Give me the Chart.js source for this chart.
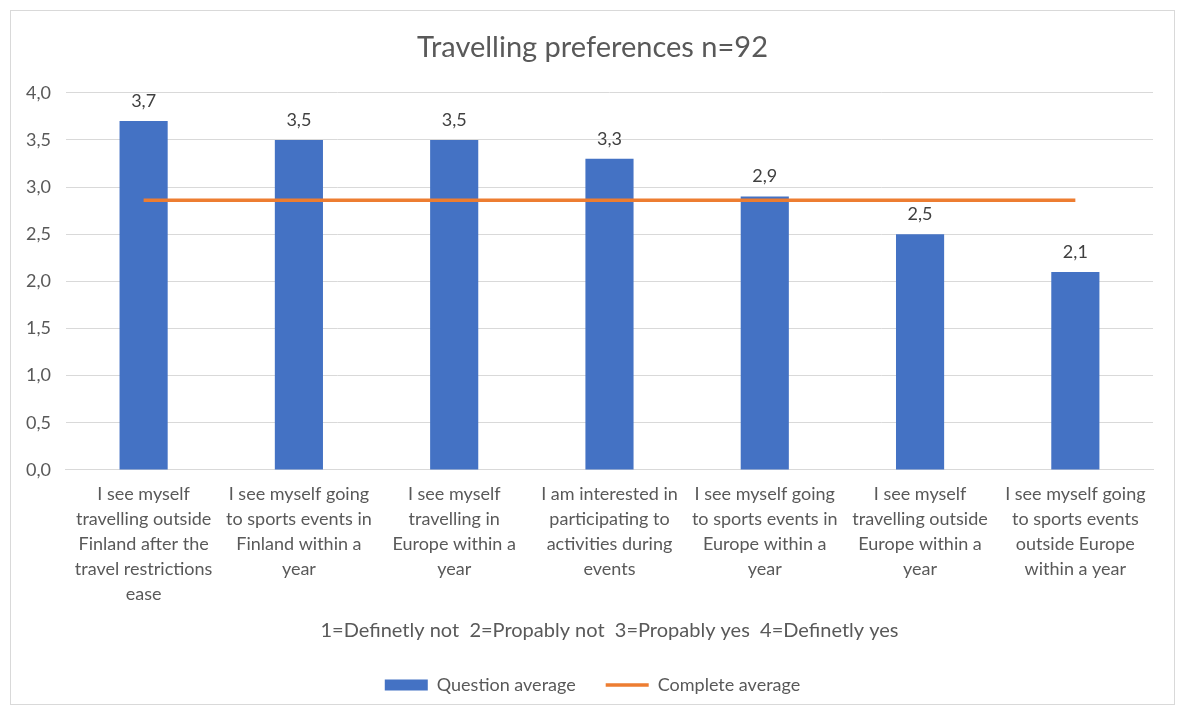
<!DOCTYPE html>
<html>
<head>
<meta charset="utf-8">
<script src="https://cdn.jsdelivr.net/npm/chart.js@4"></script>
<style>
  body { margin: 0; background: #fff; }
  #frame { position: absolute; left: 10px; top: 10px; width: 1163px; height: 693px; border: 1px solid #d9d9d9; }
</style>
</head>
<body>
<div id="frame"><canvas id="travelChart" width="1163" height="693"></canvas></div>
<script>
const categories = [
    ['I see myself', 'travelling outside', 'Finland after the', 'travel restrictions', 'ease'],
    ['I see myself going', 'to sports events in', 'Finland within a', 'year'],
    ['I see myself', 'travelling in', 'Europe within a', 'year'],
    ['I am interested in', 'participating to', 'activities during', 'events'],
    ['I see myself going', 'to sports events in', 'Europe within a', 'year'],
    ['I see myself', 'travelling outside', 'Europe within a', 'year'],
    ['I see myself going', 'to sports events', 'outside Europe', 'within a year']
];
const questionAverage = [3.7, 3.5, 3.5, 3.3, 2.9, 2.5, 2.1];
const completeAverage = [2.86, 2.86, 2.86, 2.86, 2.86, 2.86, 2.86];
const yTicks = [0, 0.5, 1, 1.5, 2, 2.5, 3, 3.5, 4];

const textColor = '#595959';
const fontFamily = 'Lato, "Open Sans", sans-serif';
const fmt = v => v.toFixed(1).replace('.', ',');

// value labels above the bars
const barLabels = {
    id: 'barLabels',
    afterDatasetsDraw(chart) {
        const meta = chart.getDatasetMeta(0);
        const ctx = chart.ctx;
        ctx.save();
        ctx.font = '18px ' + fontFamily;
        ctx.fillStyle = '#404040';
        ctx.textAlign = 'center';
        ctx.textBaseline = 'bottom';
        meta.data.forEach((bar, i) => {
            ctx.fillText(fmt(questionAverage[i]), bar.x, bar.y - 11);
        });
        ctx.restore();
    }
};

const ctx = document.getElementById('travelChart').getContext('2d');
new Chart(ctx, {
    type: 'bar',
    data: {
        labels: categories,
        datasets: [{
            label: 'Question average',
            data: questionAverage,
            backgroundColor: '#4472C4',
            categoryPercentage: 1,
            barPercentage: 0.31,
            pointStyle: 'rect',
            order: 1
        }, {
            type: 'line',
            label: 'Complete average',
            data: completeAverage,
            borderColor: '#ED7D31',
            backgroundColor: '#ED7D31',
            borderWidth: 3.5,
            pointRadius: 0,
            pointStyle: 'line',
            order: 0
        }]
    },
    options: {
        responsive: false,
        animation: false,
        layout: { padding: { left: 0, right: 0, bottom: 0 } },
        plugins: {
            title: {
                display: true,
                text: 'Travelling preferences n=92',
                color: textColor,
                font: { family: fontFamily, size: 29, weight: 'normal' },
                padding: { top: 19, bottom: 28 }
            },
            legend: {
                position: 'bottom',
                labels: {
                    usePointStyle: true,
                    pointStyleWidth: 43,
                    boxHeight: 11,
                    padding: 30,
                    color: textColor,
                    font: { family: fontFamily, size: 18 },
                    sort: (a, b) => a.datasetIndex - b.datasetIndex
                }
            },
            tooltip: { enabled: false }
        },
        scales: {
            x: {
                grid: { display: false, drawTicks: false },
                border: { color: '#d9d9d9' },
                ticks: {
                    color: textColor,
                    maxRotation: 0,
                    autoSkip: false,
                    padding: 12,
                    font: { family: fontFamily, size: 18, lineHeight: 1.39 }
                },
                title: {
                    display: true,
                    text: '1=Definetly not  2=Propably not  3=Propably yes  4=Definetly yes',
                    color: textColor,
                    font: { family: fontFamily, size: 20 },
                    padding: { top: 0, bottom: 3 }
                }
            },
            y: {
                min: 0,
                max: 4,
                afterBuildTicks: axis => { axis.ticks = yTicks.map(v => ({ value: v })); },
                grid: { color: '#d9d9d9', drawTicks: false },
                border: { display: false },
                ticks: {
                    color: textColor,
                    padding: 15,
                    font: { family: fontFamily, size: 18 },
                    callback: v => fmt(v)
                }
            },
            // empty right axis, only keeps the plot clear of the frame
            yRight: {
                position: 'right',
                grid: { display: false },
                border: { display: false },
                ticks: { display: false },
                afterFit: axis => { axis.width = 21; }
            }
        }
    },
    plugins: [barLabels]
});
</script>
</body>
</html>
